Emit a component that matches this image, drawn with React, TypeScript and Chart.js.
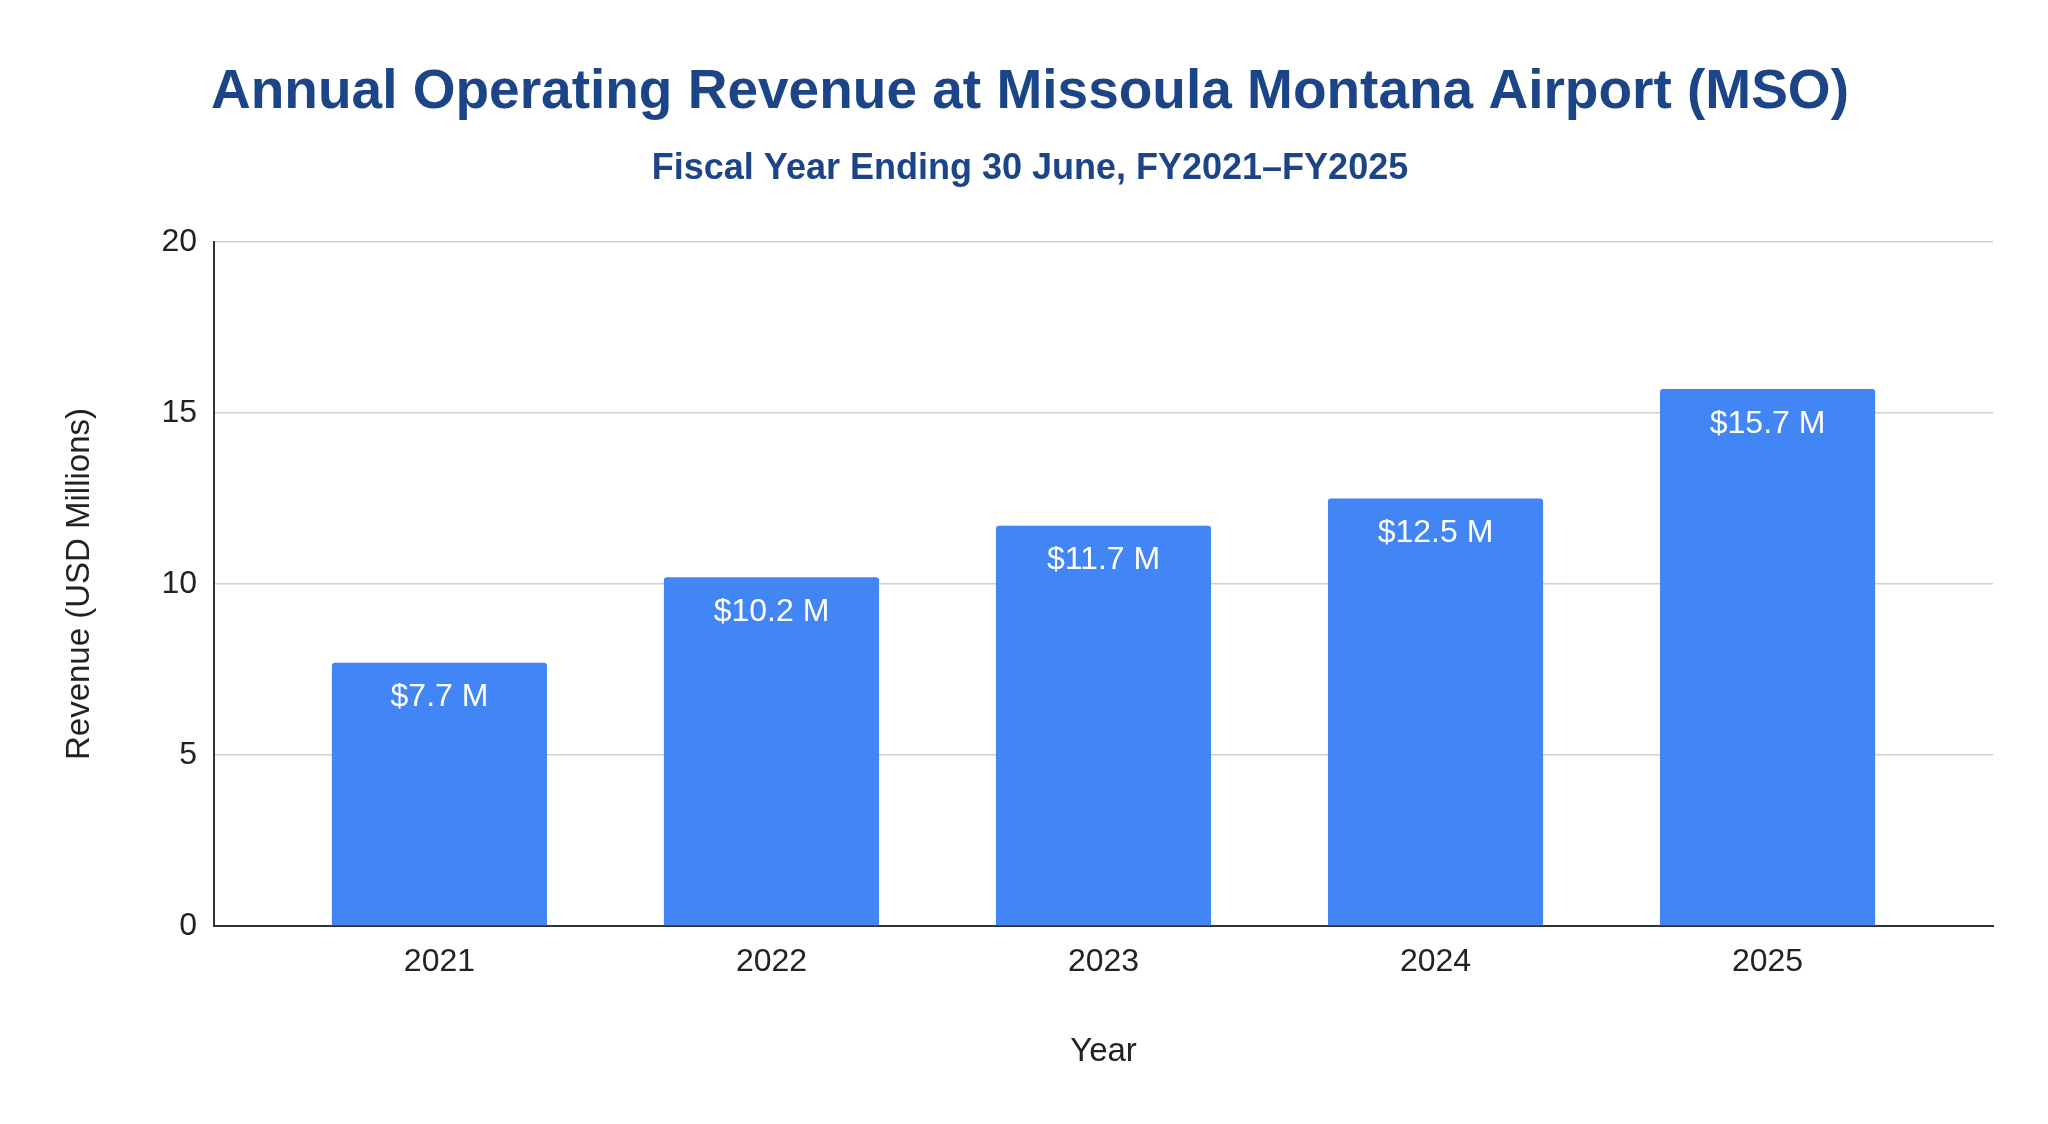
import React, { useEffect, useRef } from 'react';
import { Chart, registerables } from 'chart.js';

Chart.register(...registerables);

const FONT = '"Liberation Sans", Arial, sans-serif';

// fiscal years and revenue (USD millions)
const years = ['2021', '2022', '2023', '2024', '2025'];
const revenue = [7.7, 10.2, 11.7, 12.5, 15.7];
const yTicks = [0, 5, 10, 15, 20];

const titleText = 'Annual Operating Revenue at Missoula Montana Airport (MSO)';
const subtitleText = 'Fiscal Year Ending 30 June, FY2021–FY2025';

// draws "$x.x M" inside the top of each bar
const barLabels = {
  id: 'barLabels',
  afterDatasetsDraw(chart: Chart) {
    const { ctx } = chart;
    const meta = chart.getDatasetMeta(0);
    ctx.save();
    ctx.font = `32px ${FONT}`;
    ctx.fillStyle = '#ffffff';
    ctx.textAlign = 'center';
    ctx.textBaseline = 'alphabetic';
    meta.data.forEach((bar: any, i: number) => {
      ctx.fillText(`$${revenue[i].toFixed(1)} M`, bar.x, bar.y + 43.5);
    });
    ctx.restore();
  },
};

const App: React.FC = () => {
  const chartRef = useRef<HTMLCanvasElement>(null);
  const chartInstance = useRef<Chart | null>(null);

  useEffect(() => {
    document.body.style.margin = '0';
    if (!chartRef.current) return;
    if (chartInstance.current) chartInstance.current.destroy();

    const ctx = chartRef.current.getContext('2d');
    if (!ctx) return;

    const first = Number(years[0]);
    const last = Number(years[years.length - 1]);
    const edge = 0.679;

    chartInstance.current = new Chart(ctx, {
      type: 'bar',
      data: {
        datasets: [
          {
            label: 'Revenue',
            data: years.map((y, i) => ({ x: Number(y), y: revenue[i] })),
            backgroundColor: '#4285F4',
            borderWidth: 0,
            borderRadius: { topLeft: 3, topRight: 3, bottomLeft: 0, bottomRight: 0 },
            borderSkipped: 'start',
            barPercentage: 0.648,
            categoryPercentage: 1,
          },
        ],
      },
      plugins: [barLabels],
      options: {
        responsive: true,
        maintainAspectRatio: false,
        animation: false,
        layout: { padding: { left: 67, right: 55, top: 0, bottom: 0 } },
        plugins: {
          legend: { display: false },
          tooltip: { enabled: false },
          title: {
            display: true,
            text: titleText,
            color: '#1c4587',
            font: { family: FONT, size: 55, weight: 'bold', lineHeight: 1.2 },
            padding: { top: 60, bottom: 0 },
          },
          subtitle: {
            display: true,
            text: subtitleText,
            color: '#1c4587',
            font: { family: FONT, size: 36, weight: 'bold', lineHeight: 1.2 },
            padding: { top: 21, bottom: 51.8 },
          },
        },
        scales: {
          x: {
            type: 'linear',
            min: first - edge,
            max: last + edge,
            offset: false,
            grid: { display: false, drawTicks: false },
            border: { display: true, color: '#333333', width: 2 },
            ticks: {
              stepSize: 1,
              includeBounds: false,
              padding: 17,
              color: '#222222',
              font: { family: FONT, size: 32 },
              callback: (v: any) => {
                const idx = years.indexOf(String(v));
                return idx >= 0 ? years[idx] : '';
              },
            },
            title: {
              display: true,
              text: 'Year',
              color: '#222222',
              font: { family: FONT, size: 33, lineHeight: 1.2 },
              padding: { top: 34, bottom: 52 },
            },
          },
          y: {
            min: yTicks[0],
            max: yTicks[yTicks.length - 1],
            grid: { color: '#d0d0d0', lineWidth: 1.5, drawTicks: false },
            border: { display: true, color: '#333333', width: 2 },
            ticks: {
              stepSize: yTicks[1] - yTicks[0],
              padding: 17,
              color: '#222222',
              font: { family: FONT, size: 32 },
            },
            title: {
              display: true,
              text: 'Revenue (USD Millions)',
              color: '#222222',
              font: { family: FONT, size: 33, lineHeight: 0.5 },
              padding: { top: 4.75, bottom: 0 },
            },
            afterFit: (scale: any) => {
              scale.width = 147;
            },
          },
        },
      },
    });

    return () => {
      if (chartInstance.current) {
        chartInstance.current.destroy();
        chartInstance.current = null;
      }
    };
  }, []);

  return (
    <div style={{ position: 'relative', width: '2048px', height: '1124px', background: '#ffffff' }}>
      <canvas ref={chartRef} />
    </div>
  );
};

export default App;
